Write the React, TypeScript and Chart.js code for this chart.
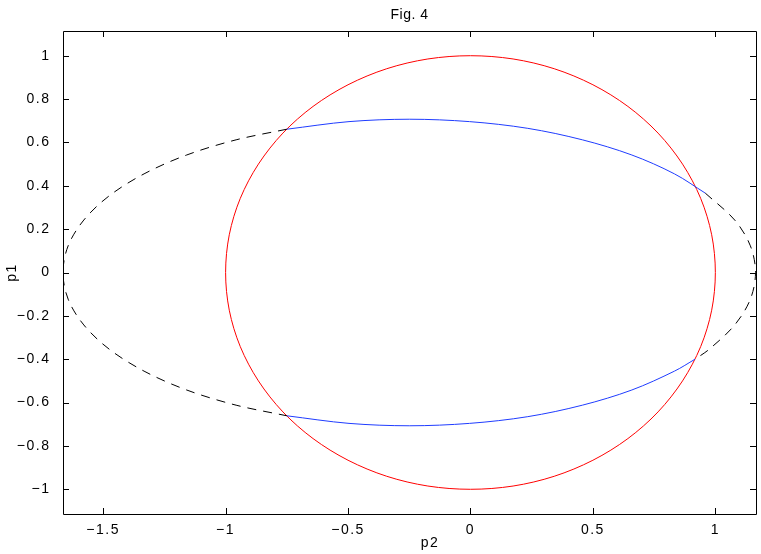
import React, { useEffect, useRef } from 'react';
import { Chart, registerables } from 'chart.js';

Chart.register(...registerables);

// Red unit circle (p2, p1); first and last points only close the loop smoothly
const circleX = [0.985, 1, 0.985, 0.94, 0.866, 0.766, 0.643, 0.5, 0.342, 0.174, 0, -0.174, -0.342, -0.5, -0.643, -0.766, -0.866, -0.94, -0.985, -1, -0.985, -0.94, -0.866, -0.766, -0.643, -0.5, -0.342, -0.174, 0, 0.174, 0.342, 0.5, 0.643, 0.766, 0.866, 0.94, 0.985, 1, 0.985];
const circleY = [-0.174, 0, 0.174, 0.342, 0.5, 0.643, 0.766, 0.866, 0.94, 0.985, 1, 0.985, 0.94, 0.866, 0.766, 0.643, 0.5, 0.342, 0.174, 0, -0.174, -0.342, -0.5, -0.643, -0.766, -0.866, -0.94, -0.985, -1, -0.985, -0.94, -0.866, -0.766, -0.643, -0.5, -0.342, -0.174, 0, 0.174];

// Dashed black ellipse, left part
const dashLeftX = [-0.75, -0.957, -1.159, -1.333, -1.475, -1.579, -1.643, -1.664, -1.643, -1.579, -1.475, -1.333, -1.159, -0.957, -0.75];
const dashLeftY = [0.661, 0.612, 0.542, 0.455, 0.354, 0.242, 0.123, 0, -0.123, -0.242, -0.354, -0.455, -0.542, -0.612, -0.661];

// Dashed black ellipse, right part
const dashRightX = [0.959, 1.079, 1.143, 1.164, 1.143, 1.079, 0.975, 0.917];
const dashRightY = [0.366, 0.242, 0.123, 0, -0.123, -0.242, -0.354, -0.4];

// Blue arcs
const blueUpperX = [-0.75, -0.496, -0.25, -0.004, 0.234, 0.457, 0.659, 0.833, 0.959];
const blueUpperY = [0.661, 0.696, 0.707, 0.696, 0.665, 0.612, 0.542, 0.455, 0.366];
const blueLowerX = [-0.75, -0.496, -0.25, -0.004, 0.234, 0.457, 0.659, 0.833, 0.917];
const blueLowerY = [-0.661, -0.696, -0.707, -0.696, -0.665, -0.612, -0.542, -0.455, -0.4];

// Axes
const xTicks = [-1.5, -1, -0.5, 0, 0.5, 1];
const yTicks = [-1, -0.8, -0.6, -0.4, -0.2, 0, 0.2, 0.4, 0.6, 0.8, 1];
const xRange = [-1.664, 1.166];
const yRange = [-1.114, 1.114];

const titleText = 'Fig. 4';
const xLabel = 'p2';
const yLabel = 'p1';

const FONT = '"Liberation Sans", Arial, Helvetica, sans-serif';

const zip = (xs: number[], ys: number[]) => xs.map((x, i) => ({ x, y: ys[i] }));
const fmt = (v: number) => String(v).replace('-', '\u2212');

const framePlugin = {
  id: 'matlabFrame',
  beforeDraw(chart: any) {
    (chart.ctx as any).letterSpacing = '1.5px';
  },
  afterDatasetsDraw(chart: any) {
    const { ctx, chartArea } = chart;
    const { left, right, top, bottom } = chartArea;
    const xs = chart.scales.x;
    const ys = chart.scales.y;
    const tl = 6;
    ctx.save();
    ctx.strokeStyle = '#000';
    ctx.lineWidth = 1;
    ctx.setLineDash([]);
    ctx.beginPath();
    ctx.rect(Math.round(left) + 0.5, Math.round(top) + 0.5, Math.round(right - left), Math.round(bottom - top));
    ctx.stroke();
    ctx.beginPath();
    xTicks.forEach((v) => {
      const px = Math.round(xs.getPixelForValue(v)) + 0.5;
      ctx.moveTo(px, bottom);
      ctx.lineTo(px, bottom - tl);
      ctx.moveTo(px, top);
      ctx.lineTo(px, top + tl);
    });
    yTicks.forEach((v) => {
      const py = Math.round(ys.getPixelForValue(v)) + 0.5;
      ctx.moveTo(left, py);
      ctx.lineTo(left + tl, py);
      ctx.moveTo(right, py);
      ctx.lineTo(right - tl, py);
    });
    ctx.stroke();

    ctx.fillStyle = '#000';
    ctx.font = `14px ${FONT}`;
    ctx.textAlign = 'center';
    ctx.textBaseline = 'middle';
    (ctx as any).letterSpacing = '0.5px';
    ctx.fillText(titleText, (left + right) / 2, 15);
    (ctx as any).letterSpacing = '1.5px';
    ctx.fillText(xLabel, 430, 543);
    ctx.translate(12, (top + bottom) / 2);
    ctx.rotate(-Math.PI / 2);
    ctx.fillText(yLabel, 0, 0);
    ctx.restore();
  },
};

export default function App() {
  const ref = useRef<HTMLCanvasElement | null>(null);

  useEffect(() => {
    if (!ref.current) return;
    const lineBase = { showLine: true, pointRadius: 0, borderWidth: 1, tension: 0.33, fill: false };
    const lastCircle = circleX.length - 1;
    const chart = new Chart(ref.current, {
      type: 'scatter',
      data: {
        datasets: [
          { ...lineBase, label: 'ellipse-left', data: zip(dashLeftX, dashLeftY), borderColor: '#000000', borderDash: [9, 7] },
          { ...lineBase, label: 'ellipse-right', data: zip(dashRightX, dashRightY), borderColor: '#000000', borderDash: [9, 7] },
          { ...lineBase, label: 'blue-upper', data: zip(blueUpperX, blueUpperY), borderColor: '#1f3cff' },
          { ...lineBase, label: 'blue-lower', data: zip(blueLowerX, blueLowerY), borderColor: '#1f3cff' },
          {
            ...lineBase,
            label: 'circle',
            data: zip(circleX, circleY),
            borderColor: '#ff0000',
            segment: {
              borderColor: (c: any) => (c.p0DataIndex === 0 || c.p1DataIndex === lastCircle ? 'rgba(0,0,0,0)' : undefined),
            },
          },
        ] as any,
      },
      options: {
        animation: false,
        responsive: false,
        devicePixelRatio: 1,
        events: [],
        layout: { padding: { top: 31, right: 5, left: 0, bottom: 0 } },
        plugins: { legend: { display: false }, tooltip: { enabled: false }, title: { display: false } },
        scales: {
          x: {
            type: 'linear',
            min: xRange[0],
            max: xRange[1],
            grid: { display: false },
            border: { display: false },
            afterBuildTicks: (s: any) => { s.ticks = xTicks.map((value) => ({ value })); },
            afterFit: (s: any) => { s.height = 40; },
            ticks: { padding: 0, color: '#000', font: { family: FONT, size: 14 }, maxRotation: 0, callback: (v: any) => fmt(Number(v)) },
          },
          y: {
            type: 'linear',
            min: yRange[0],
            max: yRange[1],
            grid: { display: false },
            border: { display: false },
            afterBuildTicks: (s: any) => { s.ticks = yTicks.map((value) => ({ value })); },
            afterFit: (s: any) => { s.width = 63; },
            ticks: { padding: 4.5, color: '#000', font: { family: FONT, size: 14 }, callback: (v: any) => fmt(Number(v)) },
          },
        },
      } as any,
      plugins: [framePlugin],
    });
    return () => chart.destroy();
  }, []);

  return (
    <div style={{ position: 'fixed', left: 0, top: 0, width: 761, height: 554, background: '#fff' }}>
      <canvas ref={ref} width={761} height={554} style={{ display: 'block' }} />
    </div>
  );
}
